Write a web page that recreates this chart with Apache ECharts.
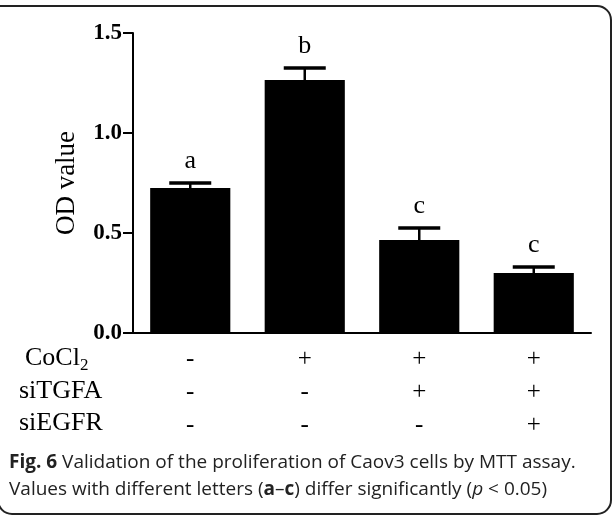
<!DOCTYPE html>
<html>
<head>
<meta charset="UTF-8">
<title>OD value</title>
<script src="https://cdn.jsdelivr.net/npm/echarts@6/dist/echarts.min.js"></script>
<style>
  html, body { margin: 0; padding: 0; background: #fff; }
  #main { width: 613px; height: 517px; }
</style>
</head>
<body>
<div id="main"></div>
<script>
// data
var groups = ['g1', 'g2', 'g3', 'g4'];
var odMean = [0.725, 1.265, 0.465, 0.30];
var odErr = [0.025, 0.06, 0.06, 0.03];
var letters = ['a', 'b', 'c', 'c'];
var rowNames = ['CoCl2', 'siTGFA', 'siEGFR'];
var coCl2 = ['-', '+', '+', '+'];
var siTGFA = ['-', '-', '+', '+'];
var siEGFR = ['-', '-', '-', '+'];
var yTicks = [0, 0.5, 1.0, 1.5];

var rows = [coCl2, siTGFA, siEGFR];
var serif = '"Liberation Serif", "DejaVu Serif", serif';
var sans = '"Open Sans", "Noto Sans", sans-serif';

var myChart = echarts.init(document.getElementById('main'));

var errData = [];
for (var i = 0; i < groups.length; i++) {
    errData.push([i, odMean[i], odMean[i] + odErr[i]]);
}

// labels of the treatment rows, left of the axis
var rowGraphics = [];
var rowY = [360, 393, 425];
for (var r = 0; r < rowNames.length; r++) {
    var txt = rowNames[r];
    var m = txt.match(/^(.*?)(\d+)$/);
    rowGraphics.push({
        type: 'text',
        left: r === 0 ? 25 : 19,
        top: rowY[r] - 15,
        style: {
            text: m ? m[1] + '{s|' + m[2] + '}' : txt,
            font: '26px ' + serif,
            fill: '#000',
            rich: {
                s: { fontSize: 17, fontFamily: 'Liberation Serif', padding: [15, 0, 0, 0] }
            }
        }
    });
}

option = {
    backgroundColor: '#fff',
    animation: false,
    grid: { left: 133, right: 22, top: 33, bottom: 184 },
    xAxis: {
        type: 'category',
        data: groups,
        axisLine: { lineStyle: { color: '#000', width: 2 } },
        axisTick: { alignWithLabel: true, length: 10, lineStyle: { color: '#000', width: 2 } },
        axisLabel: {
            margin: 10,
            interval: 0,
            color: '#000',
            fontFamily: serif,
            fontSize: 25,
            lineHeight: 33,
            formatter: function (v, idx) {
                return rows.map(function (row) { return row[idx]; }).join('\n');
            }
        }
    },
    yAxis: {
        type: 'value',
        min: yTicks[0],
        max: yTicks[yTicks.length - 1],
        interval: 0.5,
        name: 'OD value',
        nameLocation: 'middle',
        nameGap: 53,
        nameRotate: 90,
        nameTextStyle: { fontFamily: serif, fontSize: 27, color: '#000' },
        splitLine: { show: false },
        axisLine: { show: true, lineStyle: { color: '#000', width: 2 } },
        axisTick: { show: true, length: 10, lineStyle: { color: '#000', width: 2 } },
        axisLabel: {
            margin: 11,
            color: '#000',
            fontFamily: serif,
            fontWeight: 'bold',
            fontSize: 23,
            formatter: function (v) { return v.toFixed(1); }
        }
    },
    series: [
        {
            type: 'bar',
            data: odMean,
            barWidth: '70%',
            itemStyle: { color: '#000' }
        },
        {
            type: 'custom',
            data: errData,
            z: 3,
            renderItem: function (params, api) {
                var idx = api.value(0);
                var base = api.coord([idx, api.value(1)]);
                var top = api.coord([idx, api.value(2)]);
                var half = 21;
                return {
                    type: 'group',
                    children: [
                        { type: 'line', shape: { x1: base[0], y1: base[1], x2: top[0], y2: top[1] },
                          style: { stroke: '#000', lineWidth: 2.5 } },
                        { type: 'line', shape: { x1: top[0] - half, y1: top[1], x2: top[0] + half, y2: top[1] },
                          style: { stroke: '#000', lineWidth: 3.5 } },
                        { type: 'text', x: top[0], y: top[1] - 9,
                          style: { text: letters[idx], font: '26px ' + serif, fill: '#000',
                                   align: 'center', verticalAlign: 'bottom' } }
                    ]
                };
            }
        }
    ],
    graphic: rowGraphics.concat([
        {
            type: 'rect',
            shape: { x: -2, y: 6, width: 613, height: 508, r: [0, 14, 14, 14] },
            style: { fill: null, stroke: '#222', lineWidth: 2 },
            silent: true
        },
        {
            type: 'text',
            left: 9,
            top: 453,
            style: {
                text: '{b|Fig. 6} Validation of the proliferation of Caov3 cells by MTT assay.',
                font: '19px ' + sans,
                fill: '#222',
                rich: { b: { fontWeight: 'bold', fontSize: 19, fontFamily: 'Open Sans' } }
            }
        },
        {
            type: 'text',
            left: 9,
            top: 480,
            style: {
                text: 'Values with different letters ({b|a}–{b|c}) differ significantly ({i|p} < 0.05)',
                font: '19px ' + sans,
                fill: '#222',
                rich: {
                    b: { fontWeight: 'bold', fontSize: 19, fontFamily: 'Open Sans' },
                    i: { fontStyle: 'italic', fontSize: 19, fontFamily: 'Open Sans' }
                }
            }
        }
    ])
};

myChart.setOption(option);
</script>
</body>
</html>
